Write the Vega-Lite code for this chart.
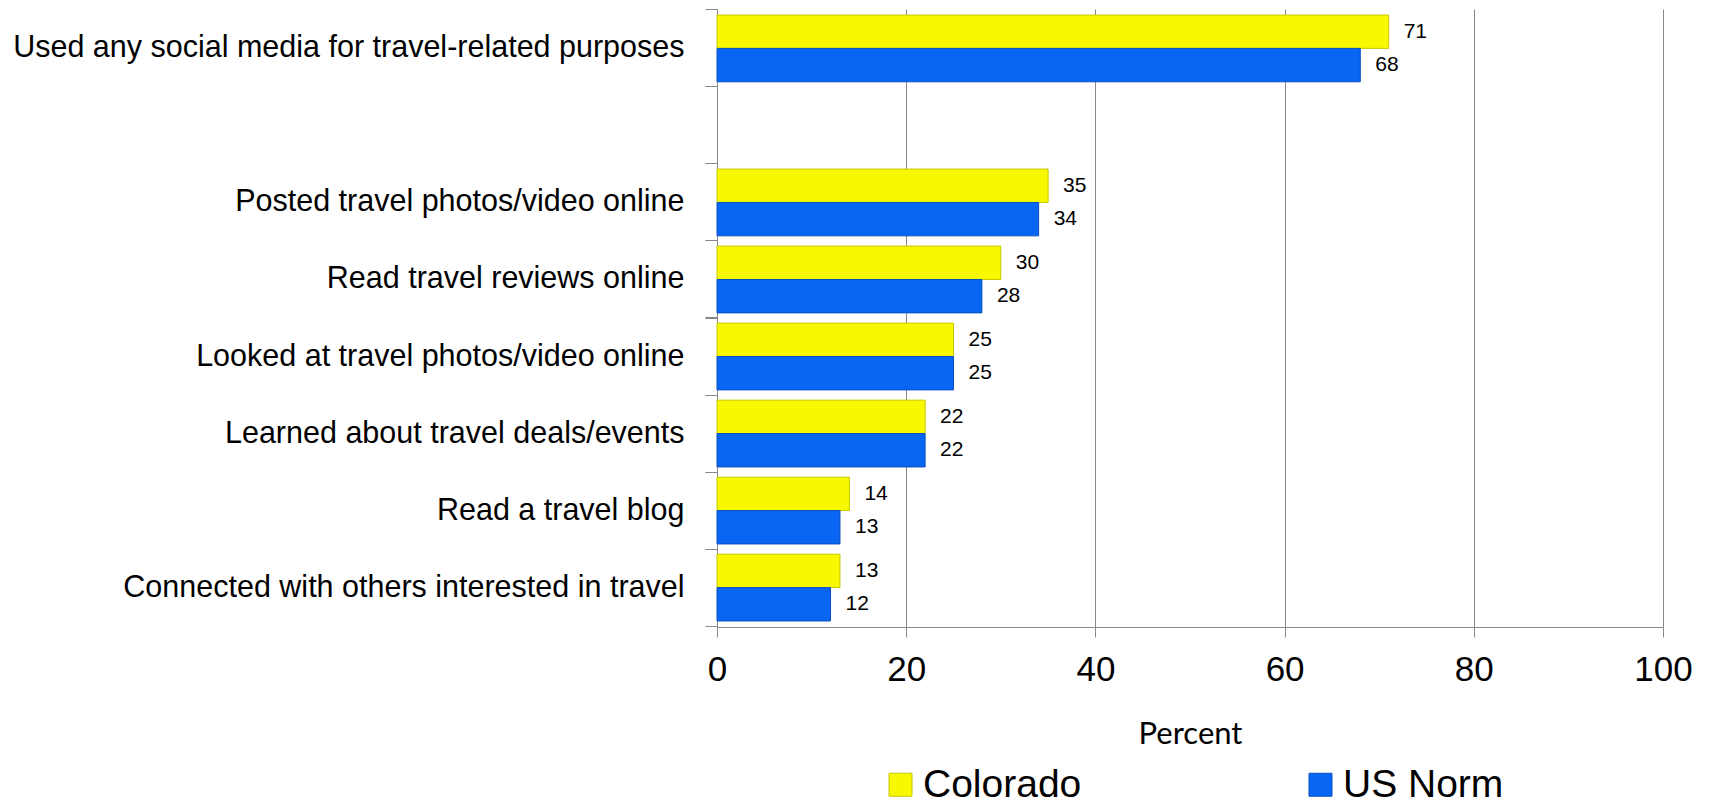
{
  "$schema": "https://vega.github.io/schema/vega-lite/v6.json",
  "width": 946,
  "height": 618,
  "autosize": "none",
  "padding": {"left": 717, "top": 9, "right": 48, "bottom": 179},
  "background": "white",
  "config": {"view": {"stroke": null}},
  "data": {
    "values": [
      {"item": "Used any social media for travel-related purposes", "series": "Colorado", "pct": 71},
      {"item": "Used any social media for travel-related purposes", "series": "US Norm", "pct": 68},
      {"item": "Posted travel photos/video online", "series": "Colorado", "pct": 35},
      {"item": "Posted travel photos/video online", "series": "US Norm", "pct": 34},
      {"item": "Read travel reviews online", "series": "Colorado", "pct": 30},
      {"item": "Read travel reviews online", "series": "US Norm", "pct": 28},
      {"item": "Looked at travel photos/video online", "series": "Colorado", "pct": 25},
      {"item": "Looked at travel photos/video online", "series": "US Norm", "pct": 25},
      {"item": "Learned about travel deals/events", "series": "Colorado", "pct": 22},
      {"item": "Learned about travel deals/events", "series": "US Norm", "pct": 22},
      {"item": "Read a travel blog", "series": "Colorado", "pct": 14},
      {"item": "Read a travel blog", "series": "US Norm", "pct": 13},
      {"item": "Connected with others interested in travel", "series": "Colorado", "pct": 13},
      {"item": "Connected with others interested in travel", "series": "US Norm", "pct": 12}
    ]
  },
  "encoding": {
    "x": {
      "field": "pct",
      "type": "quantitative",
      "scale": {"domain": [0, 100]},
      "axis": {
        "values": [0, 20, 40, 60, 80, 100],
        "grid": true,
        "gridColor": "#888888",
        "gridWidth": 1,
        "domainColor": "#888888",
        "tickColor": "#888888",
        "tickSize": 10,
        "labelPadding": 15,
        "labelFlush": false,
        "labelFont": "Liberation Sans",
        "labelFontSize": 35,
        "labelColor": "#000000",
        "title": "Percent",
        "titleFont": "Lato",
        "titleFontSize": 31,
        "titleFontWeight": "normal",
        "titleColor": "#000000",
        "titleBaseline": "alphabetic",
        "titleY": 116
      }
    },
    "yOffset": {"field": "series", "type": "nominal", "sort": ["Colorado", "US Norm"]}
  },
  "layer": [
    {
      "mark": {"type": "bar", "strokeWidth": 1},
      "encoding": {
        "y": {
          "field": "item",
          "type": "nominal",
          "scale": {
            "domain": [
              "Used any social media for travel-related purposes",
              " ",
              "Posted travel photos/video online",
              "Read travel reviews online",
              "Looked at travel photos/video online",
              "Learned about travel deals/events",
              "Read a travel blog",
              "Connected with others interested in travel"
            ],
            "paddingInner": 0.133,
            "paddingOuter": 0.078
          },
          "axis": {
            "title": null,
            "bandPosition": -0.077,
            "tickSize": 12,
            "tickColor": "#888888",
            "domainColor": "#888888",
            "labelFont": "Liberation Sans",
            "labelFontSize": 30.5,
            "labelColor": "#000000",
            "labelPadding": 21,
            "labelLimit": 0,
            "labelBound": false
          }
        },
        "color": {
          "field": "series",
          "type": "nominal",
          "scale": {"domain": ["Colorado", "US Norm"], "range": ["#f8f800", "#0866f2"]},
          "legend": {
            "title": null,
            "orient": "none",
            "direction": "horizontal",
            "legendX": 164,
            "legendY": 756,
            "symbolType": "square",
            "symbolSize": 529,
            "symbolStrokeColor": "#a0a0a0",
            "symbolStrokeWidth": 1,
            "labelFont": "Liberation Sans",
            "labelFontSize": 39,
            "labelColor": "#000000",
            "labelOffset": 3,
            "labelLimit": 0,
            "columnPadding": 219
          }
        },
        "stroke": {
          "field": "series",
          "type": "nominal",
          "scale": {"domain": ["Colorado", "US Norm"], "range": ["#c8c800", "#0a50c0"]},
          "legend": null
        }
      }
    },
    {
      "mark": {"type": "text", "align": "left", "baseline": "middle", "dx": 15, "font": "Liberation Sans", "fontSize": 21, "color": "#000000"},
      "encoding": {
        "y": {
          "field": "item",
          "type": "nominal",
          "axis": {
            "orient": "left",
            "title": null,
            "labels": false,
            "domain": false,
            "bandPosition": 1.077,
            "tickSize": 12,
            "tickColor": "#888888"
          }
        },
        "text": {"field": "pct", "type": "quantitative"}
      }
    }
  ],
  "resolve": {"axis": {"y": "independent"}}
}
